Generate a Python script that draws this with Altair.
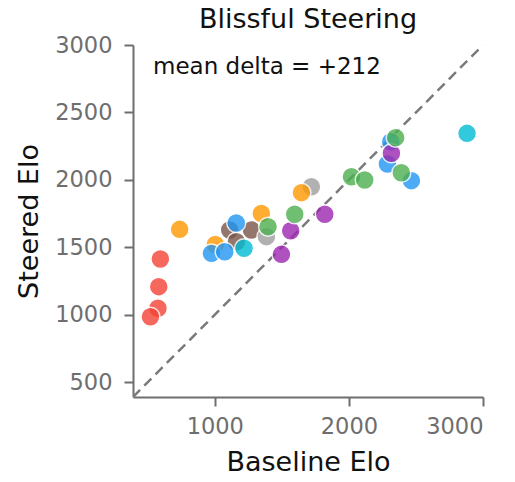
import altair as alt
import pandas as pd

# Elo ratings per model family: baseline vs. with blissful steering applied
families = (
    ["brown"] * 3 + ["grey"] * 2 + ["red"] * 4 + ["orange"] * 4
    + ["blue"] * 6 + ["purple"] * 4 + ["cyan"] * 2 + ["green"] * 6
)
baseline = [
    1111, 1273, 1161,
    1385, 1720,
    594, 582, 576, 520,
    738, 1004, 1347, 1646,
    975, 1074, 1160, 2312, 2287, 2466,
    1497, 1566, 1820, 2317,
    1218, 2881,
    1397, 1596, 2019, 2118, 2349, 2391,
]
steered = [
    1628, 1628, 1541,
    1579, 1949,
    1413, 1208, 1048, 985,
    1633, 1521, 1751, 1905,
    1455, 1467, 1680, 2283, 2118, 1994,
    1448, 1623, 1745, 2197,
    1493, 2345,
    1653, 1745, 2023, 1999, 2313, 2053,
]
family_order = ["red", "orange", "blue", "purple", "green", "brown", "grey", "cyan"]
family_colors = ["#F44336", "#FF9800", "#2196F3", "#9C27B0", "#4CAF50", "#795548", "#9E9E9E", "#00BCD4"]

x_ticks = [1000, 2000, 3000]
y_ticks = [500, 1000, 1500, 2000, 2500, 3000]
axis_range = [390, 3000]
chart_title = "Blissful Steering"
mean_delta_label = "mean delta = +212"

FONT = "DejaVu Sans"
PLOT_W, PLOT_H = 350, 352

points_df = pd.DataFrame({"family": families, "baseline": baseline, "steered": steered})
points_df["order"] = range(len(points_df))
diag_df = pd.DataFrame({"v": axis_range})

x_scale = alt.Scale(domain=axis_range, nice=False, zero=False)
y_scale = alt.Scale(domain=axis_range, nice=False, zero=False)

axis_common = dict(
    grid=False,
    format="d",
    domainColor="#6e6e6e",
    domainWidth=2,
    tickColor="#6e6e6e",
    tickWidth=2,
    tickSize=9,
    labelColor="#6e6e6e",
    labelFont=FONT,
    labelFontSize=22.5,
    titleFont=FONT,
    titleFontSize=27,
    titleFontWeight="normal",
    titleColor="#111111",
)

diagonal = alt.Chart(diag_df).mark_line(
    color="#7a7a7a", strokeWidth=2.5, strokeDash=[10, 6], clip=True
).encode(
    x=alt.X("v:Q", scale=x_scale),
    y=alt.Y("v:Q", scale=y_scale),
)

points = alt.Chart(points_df).mark_circle(
    size=360, opacity=0.8, stroke="white", strokeWidth=1.5, strokeOpacity=1
).encode(
    x=alt.X(
        "baseline:Q",
        scale=x_scale,
        title="Baseline Elo",
        axis=alt.Axis(values=x_ticks, labelPadding=9, titlePadding=12, **axis_common),
    ),
    y=alt.Y(
        "steered:Q",
        scale=y_scale,
        title="Steered Elo",
        axis=alt.Axis(values=y_ticks, labelPadding=12, titlePadding=11, **axis_common),
    ),
    color=alt.Color(
        "family:N",
        scale=alt.Scale(domain=family_order, range=family_colors),
        legend=None,
    ),
    order=alt.Order("order:Q"),
)

note = alt.Chart(pd.DataFrame({"t": [mean_delta_label]})).mark_text(
    align="left", baseline="alphabetic", font=FONT, fontSize=23, color="#111111"
).encode(
    x=alt.value(20),
    y=alt.value(29),
    text="t:N",
)

title_text = alt.Chart(pd.DataFrame({"t": [chart_title]})).mark_text(
    align="center", baseline="alphabetic", font=FONT, fontSize=27, color="#111111"
).encode(
    x=alt.value(PLOT_W / 2),
    y=alt.value(-17),
    text="t:N",
)

chart = (
    alt.layer(diagonal, points, note, title_text)
    .properties(
        width=PLOT_W,
        height=PLOT_H,
        autosize=alt.AutoSizeParams(type="none"),
        padding={"left": 133, "top": 45, "right": 32, "bottom": 85},
    )
    .configure_view(stroke=None)
)

chart.save("out.html", embed_options={"renderer": "svg", "actions": False})
